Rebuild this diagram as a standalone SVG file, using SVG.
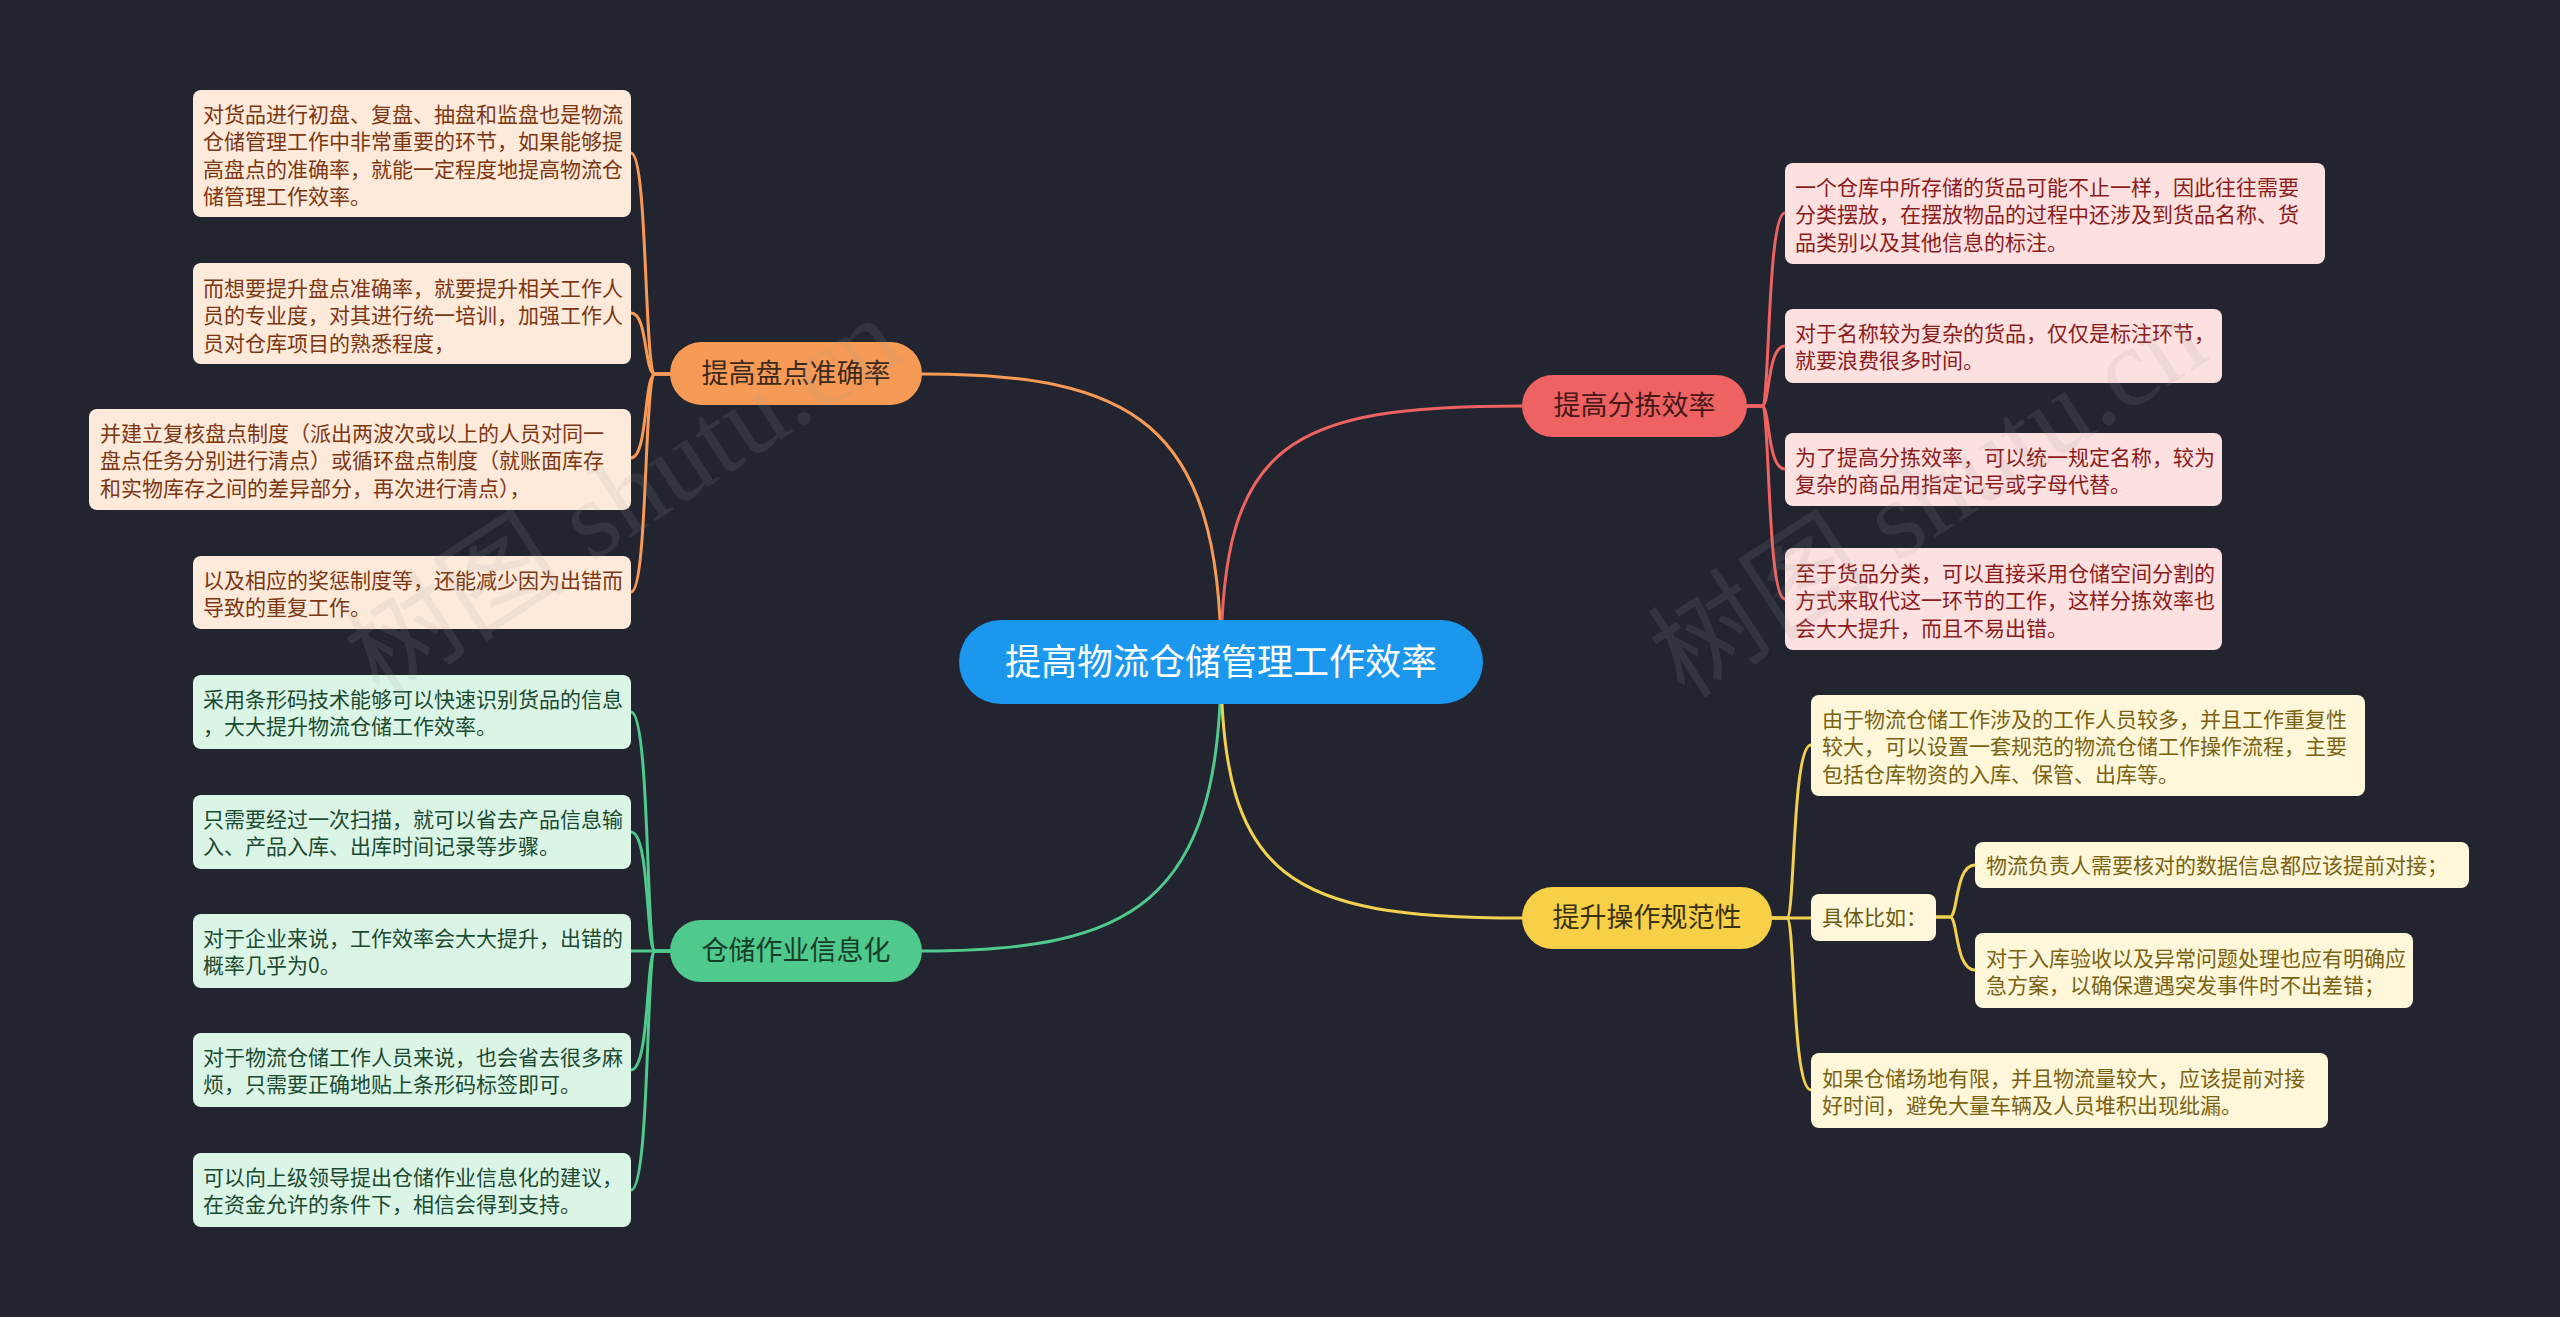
<svg xmlns="http://www.w3.org/2000/svg" width="2560" height="1317" viewBox="0 0 2560 1317">
<style>
.bg{fill:#222530}
.ln{fill:none;stroke-width:3;stroke-linecap:round}
.t{font-family:"Noto Sans CJK SC","Noto Sans",sans-serif}
.leaf{font-size:21px}
.br{font-size:27px;text-anchor:middle}
.or{stroke:#f79a55}.gr{stroke:#4fc98c}.rd{stroke:#ef6262}.yl{stroke:#f3d150}
.wm{font-family:"Liberation Serif","Noto Sans CJK SC",serif;font-size:112px;fill:#a0a0a0;opacity:0.13}
</style>
<rect class="bg" x="0" y="0" width="2560" height="1317"/>

<g id="connectors">
  <path class="ln or" d="M1221,662 C1221,420 1130,374 922,374"/>
  <path class="ln rd" d="M1221,662 C1221,440 1290,406 1522,406"/>
  <path class="ln gr" d="M1221,662 C1221,905 1130,951 922,951"/>
  <path class="ln yl" d="M1221,662 C1221,880 1290,918 1522,918"/>

  <path class="ln or" d="M670,374 L655,374 C644,374 648,153 631,153"/>
  <path class="ln or" d="M670,374 L655,374 C644,374 648,313 631,313"/>
  <path class="ln or" d="M670,374 L655,374 C644,374 648,458 631,458"/>
  <path class="ln or" d="M670,374 L655,374 C644,374 648,592 631,592"/>

  <path class="ln gr" d="M670,951 L655,951 C646,951 650,712 631,712"/>
  <path class="ln gr" d="M670,951 L655,951 C646,951 650,832 631,832"/>
  <path class="ln gr" d="M670,951 L631,951"/>
  <path class="ln gr" d="M670,951 L655,951 C646,951 650,1070 631,1070"/>
  <path class="ln gr" d="M670,951 L655,951 C646,951 650,1190 631,1190"/>

  <path class="ln rd" d="M1747,406 L1762,406 C1770,406 1767,213 1785,213"/>
  <path class="ln rd" d="M1747,406 L1762,406 C1770,406 1767,346 1785,346"/>
  <path class="ln rd" d="M1747,406 L1762,406 C1770,406 1767,469 1785,469"/>
  <path class="ln rd" d="M1747,406 L1762,406 C1770,406 1767,599 1785,599"/>

  <path class="ln yl" d="M1772,918 L1787,918 C1795,918 1792,745 1811,745"/>
  <path class="ln yl" d="M1772,918 L1811,918"/>
  <path class="ln yl" d="M1772,918 L1787,918 C1795,918 1792,1090 1811,1090"/>

  <path class="ln yl" d="M1936,917 L1950,917 C1958,917 1955,865 1975,865"/>
  <path class="ln yl" d="M1936,917 L1950,917 C1958,917 1955,970 1975,970"/>
</g>

<g id="root">
  <rect x="959" y="620" width="524" height="84" rx="42" fill="#1b98ee"/>
  <text class="t" x="1221" y="675" font-size="36" fill="#ffffff" text-anchor="middle">提高物流仓储管理工作效率</text>
</g>

<g id="b-pandian">
  <rect x="670" y="342" width="252" height="63" rx="31.5" fill="#f79a55"/>
  <text class="t br" x="796" y="383" fill="#3a2a1e">提高盘点准确率</text>
</g>
<g id="b-xinxi">
  <rect x="670" y="920" width="252" height="62" rx="31" fill="#4fc98c"/>
  <text class="t br" x="796" y="960" fill="#173d29">仓储作业信息化</text>
</g>
<g id="b-fenjian">
  <rect x="1522" y="375" width="225" height="62" rx="31" fill="#ef6262"/>
  <text class="t br" x="1634.5" y="415" fill="#461818">提高分拣效率</text>
</g>
<g id="b-guifan">
  <rect x="1522" y="887" width="250" height="62" rx="31" fill="#f7d048"/>
  <text class="t br" x="1647" y="927" fill="#3a3210">提升操作规范性</text>
</g>

<g id="l1">
  <rect x="193" y="90" width="438" height="127" rx="8" fill="#fdeadb"/>
  <text class="t leaf" x="203" y="122" fill="#7c3712"><tspan x="203">对货品进行初盘、复盘、抽盘和监盘也是物流</tspan><tspan x="203" dy="27.3">仓储管理工作中非常重要的环节，如果能够提</tspan><tspan x="203" dy="27.3">高盘点的准确率，就能一定程度地提高物流仓</tspan><tspan x="203" dy="27.3">储管理工作效率。</tspan></text>
</g>
<g id="l2">
  <rect x="193" y="263" width="438" height="101" rx="8" fill="#fdeadb"/>
  <text class="t leaf" x="203" y="296" fill="#7c3712"><tspan x="203">而想要提升盘点准确率，就要提升相关工作人</tspan><tspan x="203" dy="27.3">员的专业度，对其进行统一培训，加强工作人</tspan><tspan x="203" dy="27.3">员对仓库项目的熟悉程度，</tspan></text>
</g>
<g id="l3">
  <rect x="89" y="409" width="542" height="101" rx="8" fill="#fdeadb"/>
  <text class="t leaf" x="100" y="441" fill="#7c3712"><tspan x="100">并建立复核盘点制度（派出两波次或以上的人员对同一</tspan><tspan x="100" dy="27.3">盘点任务分别进行清点）或循环盘点制度（就账面库存</tspan><tspan x="100" dy="27.3">和实物库存之间的差异部分，再次进行清点），</tspan></text>
</g>
<g id="l4">
  <rect x="193" y="556" width="438" height="73" rx="8" fill="#fdeadb"/>
  <text class="t leaf" x="203" y="588" fill="#7c3712"><tspan x="203">以及相应的奖惩制度等，还能减少因为出错而</tspan><tspan x="203" dy="27.3">导致的重复工作。</tspan></text>
</g>

<g id="g1">
  <rect x="193" y="675" width="438" height="74" rx="8" fill="#daf4e6"/>
  <text class="t leaf" x="203" y="707" fill="#1c4a31"><tspan x="203">采用条形码技术能够可以快速识别货品的信息</tspan><tspan x="203" dy="27.3">，大大提升物流仓储工作效率。</tspan></text>
</g>
<g id="g2">
  <rect x="193" y="795" width="438" height="74" rx="8" fill="#daf4e6"/>
  <text class="t leaf" x="203" y="827" fill="#1c4a31"><tspan x="203">只需要经过一次扫描，就可以省去产品信息输</tspan><tspan x="203" dy="27.3">入、产品入库、出库时间记录等步骤。</tspan></text>
</g>
<g id="g3">
  <rect x="193" y="914" width="438" height="74" rx="8" fill="#daf4e6"/>
  <text class="t leaf" x="203" y="946" fill="#1c4a31"><tspan x="203">对于企业来说，工作效率会大大提升，出错的</tspan><tspan x="203" dy="27.3">概率几乎为0。</tspan></text>
</g>
<g id="g4">
  <rect x="193" y="1033" width="438" height="74" rx="8" fill="#daf4e6"/>
  <text class="t leaf" x="203" y="1065" fill="#1c4a31"><tspan x="203">对于物流仓储工作人员来说，也会省去很多麻</tspan><tspan x="203" dy="27.3">烦，只需要正确地贴上条形码标签即可。</tspan></text>
</g>
<g id="g5">
  <rect x="193" y="1153" width="438" height="74" rx="8" fill="#daf4e6"/>
  <text class="t leaf" x="203" y="1185" fill="#1c4a31"><tspan x="203">可以向上级领导提出仓储作业信息化的建议，</tspan><tspan x="203" dy="27.3">在资金允许的条件下，相信会得到支持。</tspan></text>
</g>

<g id="r1">
  <rect x="1785" y="163" width="540" height="101" rx="8" fill="#fde0e0"/>
  <text class="t leaf" x="1795" y="195" fill="#8a1c1c"><tspan x="1795">一个仓库中所存储的货品可能不止一样，因此往往需要</tspan><tspan x="1795" dy="27.3">分类摆放，在摆放物品的过程中还涉及到货品名称、货</tspan><tspan x="1795" dy="27.3">品类别以及其他信息的标注。</tspan></text>
</g>
<g id="r2">
  <rect x="1785" y="309" width="437" height="74" rx="8" fill="#fde0e0"/>
  <text class="t leaf" x="1795" y="341" fill="#8a1c1c"><tspan x="1795">对于名称较为复杂的货品，仅仅是标注环节，</tspan><tspan x="1795" dy="27.3">就要浪费很多时间。</tspan></text>
</g>
<g id="r3">
  <rect x="1785" y="433" width="437" height="73" rx="8" fill="#fde0e0"/>
  <text class="t leaf" x="1795" y="465" fill="#8a1c1c"><tspan x="1795">为了提高分拣效率，可以统一规定名称，较为</tspan><tspan x="1795" dy="27.3">复杂的商品用指定记号或字母代替。</tspan></text>
</g>
<g id="r4">
  <rect x="1785" y="548" width="437" height="102" rx="8" fill="#fde0e0"/>
  <text class="t leaf" x="1795" y="581" fill="#8a1c1c"><tspan x="1795">至于货品分类，可以直接采用仓储空间分割的</tspan><tspan x="1795" dy="27.3">方式来取代这一环节的工作，这样分拣效率也</tspan><tspan x="1795" dy="27.3">会大大提升，而且不易出错。</tspan></text>
</g>

<g id="y1">
  <rect x="1811" y="695" width="554" height="101" rx="8" fill="#fef7da"/>
  <text class="t leaf" x="1822" y="727" fill="#7a6212"><tspan x="1822">由于物流仓储工作涉及的工作人员较多，并且工作重复性</tspan><tspan x="1822" dy="27.3">较大，可以设置一套规范的物流仓储工作操作流程，主要</tspan><tspan x="1822" dy="27.3">包括仓库物资的入库、保管、出库等。</tspan></text>
</g>
<g id="y2">
  <rect x="1811" y="894" width="125" height="47" rx="8" fill="#fef7da"/>
  <text class="t leaf" x="1822" y="925" fill="#6b5a14">具体比如：</text>
</g>
<g id="y2a">
  <rect x="1975" y="842" width="494" height="46" rx="8" fill="#fef7da"/>
  <text class="t leaf" x="1986" y="873" fill="#7a6212">物流负责人需要核对的数据信息都应该提前对接；</text>
</g>
<g id="y2b">
  <rect x="1975" y="933" width="438" height="75" rx="8" fill="#fef7da"/>
  <text class="t leaf" x="1986" y="966" fill="#7a6212"><tspan x="1986">对于入库验收以及异常问题处理也应有明确应</tspan><tspan x="1986" dy="27.3">急方案，以确保遭遇突发事件时不出差错；</tspan></text>
</g>
<g id="y3">
  <rect x="1811" y="1053" width="517" height="75" rx="8" fill="#fef7da"/>
  <text class="t leaf" x="1822" y="1086" fill="#7a6212"><tspan x="1822">如果仓储场地有限，并且物流量较大，应该提前对接</tspan><tspan x="1822" dy="27.3">好时间，避免大量车辆及人员堆积出现纰漏。</tspan></text>
</g>

<g id="watermark">
  <text class="wm" x="380" y="700" transform="rotate(-33 380 700)">树图 shutu.cn</text>
  <text class="wm" x="1685" y="700" transform="rotate(-33 1685 700)">树图 shutu.cn</text>
</g>
</svg>
